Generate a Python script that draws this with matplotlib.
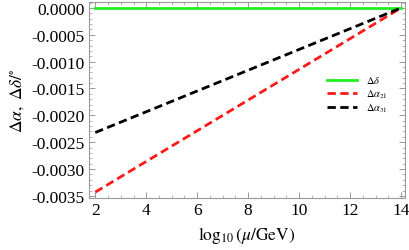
import numpy as np
import matplotlib
matplotlib.use("Agg")
import matplotlib.pyplot as plt
from matplotlib.ticker import MultipleLocator, FormatStrFormatter

plt.rcParams['font.family'] = 'Liberation Serif'
plt.rcParams['mathtext.fontset'] = 'stix'

# data (endpoints of straight lines)
logmu = [2.0, 14.0]
d_delta = [0.0, 0.0]
d_alpha21 = [-0.00343, 0.0]
d_alpha31 = [-0.00232, 0.0]

fig = plt.figure(figsize=(4.09, 2.51), dpi=100)
ax = fig.add_axes([0.218, 0.207, 0.772, 0.781])

ax.plot(logmu, d_delta, color='#22ee22', lw=2.0, label=r'$\Delta\delta$')
ax.plot(logmu, d_alpha21, color='#ff1a1a', lw=2.0, ls=(0, (3, 1.6)), label=r'$\Delta\alpha_{21}$')
ax.plot(logmu, d_alpha31, color='black', lw=2.0, ls=(0, (3, 1.6)), label=r'$\Delta\alpha_{31}$')

ax.set_xlim(1.76, 14.15)
ax.set_ylim(-0.00354, 0.00011)

ax.xaxis.set_major_locator(MultipleLocator(2))
ax.xaxis.set_minor_locator(MultipleLocator(0.5))
ax.yaxis.set_major_locator(MultipleLocator(0.0005))
ax.yaxis.set_minor_locator(MultipleLocator(0.0001))
ax.yaxis.set_major_formatter(FormatStrFormatter('%.4f'))

for s in ax.spines.values():
    s.set_color('#999999')
    s.set_linewidth(0.8)
ax.tick_params(which='both', direction='in', top=True, right=True,
               color='#999999', labelsize=12.5, labelcolor='black')
ax.tick_params(which='major', length=4.5, width=0.7, pad=3)
ax.tick_params(which='minor', length=2.2, width=0.5)

ax.set_xlabel(r'$\log_{10}(\mu/\mathrm{GeV})$', fontsize=12.5, labelpad=4)
ax.set_ylabel(r'$\Delta\alpha,\ \Delta\delta/^{\circ}$', fontsize=12.5, labelpad=4)

ax.legend(loc='upper left', bbox_to_anchor=(0.754, 0.632), frameon=False,
          fontsize=7.5, handlelength=2.9, labelspacing=0.2, handletextpad=0.8,
          borderaxespad=0, borderpad=0)

fig.savefig('out.png', dpi=100)
